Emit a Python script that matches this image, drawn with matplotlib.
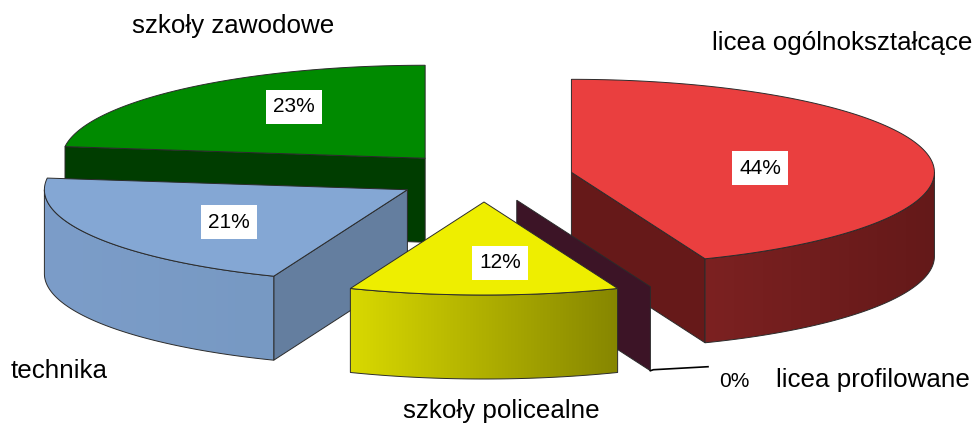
import numpy as np
import matplotlib
matplotlib.use("Agg")
import matplotlib.pyplot as plt
from matplotlib.patches import Polygon
from matplotlib.colors import to_rgb

# Dane
categories = ["licea ogólnokształcące", "licea profilowane", "szkoły policealne",
              "technika", "szkoły zawodowe"]
values = [44, 0, 12, 21, 23]
top_colors = ["#EA3F3F", "#3C1426", "#EEEE00", "#84A7D4", "#008A00"]
side_colors = ["#661919", "#3C1426", "#8A8A00", "#647E9F", "#003D00"]
wall_left = ["#7C2121", "#3C1426", "#D9D900", "#7C9DC9", "#003D00"]
wall_right = ["#641919", "#3C1426", "#868600", "#7799C3", "#003D00"]

# Geometria "3D" (piksele)
cx, cy = 484, 177
a, b, h = 363, 93, 84
ex, ey = 89, 25
edge = "#2b2b2b"

plt.rcParams['font.family'] = ['Liberation Sans', 'DejaVu Sans']
fig = plt.figure(figsize=(9.74, 4.29), dpi=100)
ax = fig.add_axes([0, 0, 1, 1])
ax.set_xlim(0, 974)
ax.set_ylim(429, 0)
ax.axis('off')


def rim(c, th, dz=0):
    return c[0] + a * np.sin(th), c[1] - b * np.cos(th) + dz


total = sum(values)
bounds = np.concatenate([[0], np.cumsum(values)]) / total * 2 * np.pi
slices = []
for i in range(len(values)):
    t0, t1 = bounds[i], bounds[i + 1]
    mid = (t0 + t1) / 2
    c = (cx + ex * np.sin(mid), cy - ey * np.cos(mid))
    slices.append((c[1], i, t0, t1, c))

for zc, i, t0, t1, c in sorted(slices):
    z = zc
    # sciany promieniowe
    for t, vis in ((t0, np.sin(t0) < -1e-9), (t1, np.sin(t1) > 1e-9)):
        if vis:
            p = rim(c, t)
            pts = [c, p, (p[0], p[1] + h), (c[0], c[1] + h)]
            ax.add_patch(Polygon(pts, closed=True, fc=side_colors[i], ec=edge,
                                 lw=0.7, zorder=z))
    # sciana boczna z gradientem
    s0, s1 = max(t0, np.pi / 2), min(t1, 3 * np.pi / 2)
    if s1 > s0:
        th = np.linspace(s0, s1, 100)
        xs, ys = rim(c, th)
        outline = list(zip(xs, ys)) + list(zip(xs[::-1], ys[::-1] + h))
        x_lo, x_hi = xs.min(), xs.max()
        y_lo, y_hi = ys.min(), ys.max() + h
        cl, cr = np.array(to_rgb(wall_left[i])), np.array(to_rgb(wall_right[i]))
        f = np.linspace(0, 1, 256)[:, None]
        grad = (cl + (cr - cl) * f)[None, :, :]
        clip = Polygon(outline, closed=True, fc='none', ec='none', transform=ax.transData)
        im = ax.imshow(grad, extent=(x_lo, x_hi, y_hi, y_lo), aspect='auto',
                       interpolation='bilinear', zorder=z + 0.01)
        im.set_clip_path(clip)
        ax.add_patch(Polygon(outline, closed=True, fill=False, ec=edge, lw=0.7,
                             zorder=z + 0.02))
    # wierzch
    if t1 > t0:
        th = np.linspace(t0, t1, 120)
        xs, ys = rim(c, th)
        pts = [c] + list(zip(xs, ys))
        ax.add_patch(Polygon(pts, closed=True, fc=top_colors[i], ec=edge,
                             lw=0.7, zorder=z + 0.03))

ax.set_xlim(0, 974)
ax.set_ylim(429, 0)

# Etykiety procentowe
pct_pos = [(760, 168), None, (500, 263), (229, 222), (294, 107)]
for i, v in enumerate(values):
    if pct_pos[i] is not None:
        ax.text(*pct_pos[i], f"{v}%", fontsize=15, ha='center', va='center',
                zorder=500,
                bbox=dict(boxstyle='square,pad=0.35', fc='white', ec='none'))

# 0% z linia odniesienia
c0 = slices[1][4]
p0 = rim(c0, bounds[1])
ax.plot([p0[0], p0[0] + 3, 708], [p0[1] + h, p0[1] + h - 1, p0[1] + h - 4],
        color='black', lw=1.2, zorder=400)
ax.text(719, 387, f"{values[1]}%", fontsize=15, ha='left', va='baseline')

# Nazwy kategorii
cat_pos = [(972, 50, 'right'), (970, 387, 'right'), (501, 418, 'center'),
           (11, 378, 'left'), (233, 33, 'center')]
for name, (x, y, ha) in zip(categories, cat_pos):
    ax.text(x, y, name, fontsize=18.7, ha=ha, va='baseline')

fig.savefig("out.png", dpi=100)
